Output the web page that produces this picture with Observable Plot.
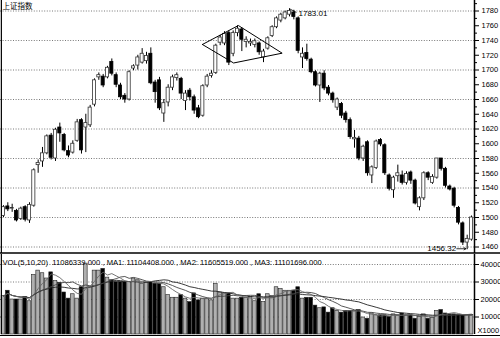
<!DOCTYPE html>
<html><head><meta charset="utf-8">
<script src="https://cdn.jsdelivr.net/npm/d3@7"></script>
<script src="https://cdn.jsdelivr.net/npm/@observablehq/plot@0.6"></script>
<style>
html,body{margin:0;padding:0;background:#fff;}
#chart{position:relative;width:500px;height:338px;overflow:hidden;}
#chart svg{position:absolute;left:0;display:block;}
</style></head><body><div id="chart"></div>
<script>
// ---- data ----
const title = "上证指数";
const volHeader = "VOL(5,10,20)  11086339.000 , MA1: 11104408.000 , MA2: 11605519.000 , MA3: 11101696.000";
const open = [
 1502,1515,1512,1509,1498,1514,1496,1516,1571,1576,
 1587,1611,1580,1622,1612,1590,1588,1604,1632,1622,
 1625,1653,1690,1691,1690,1711,1693,1679,1665,1660,
 1702,1706,1710,1712,1722,1683,1686,1641,1656,1676,
 1689,1688,1658,1672,1663,1648,1638,1679,1692,1696,
 1737,1736,1750,1722,1750,1755,1738,1736,1734,1736,
 1717,1729,1746,1758,1767,1770,1775,1778,1770,1717,
 1723,1714,1697,1679,1695,1676,1668,1649,1654,1641,
 1632,1606,1607,1580,1602,1557,1567,1605,1598,1557,
 1537,1556,1557,1547,1561,1550,1514,1526,1560,1547,
 1554,1580,1566,1542,1539,1513,1492,1466,1470];
const high = [
 1516,1520,1518,1511,1514,1516,1520,1566,1578,1595,
 1612,1614,1621,1628,1614,1597,1604,1633,1634,1640,
 1652,1688,1696,1694,1705,1715,1696,1682,1668,1699,
 1707,1720,1729,1724,1730,1686,1690,1660,1680,1693,
 1696,1690,1672,1675,1666,1652,1680,1694,1699,1735,
 1747,1752,1753,1753,1760,1757,1745,1742,1742,1738,
 1728,1745,1760,1772,1777,1780,1783.01,1781,1772,1730,
 1735,1716,1699,1697,1699,1679,1670,1662,1656,1644,
 1635,1618,1610,1598,1604,1570,1605,1607,1600,1559,
 1556,1571,1563,1562,1563,1552,1528,1562,1562,1558,
 1580,1580,1568,1544,1541,1515,1494,1476,1502];
const low = [
 1500,1508,1507,1494,1496,1494,1492,1514,1560,1568,
 1585,1578,1576,1602,1589,1581,1586,1602,1586,1588,
 1622,1650,1686,1676,1688,1692,1676,1660,1655,1658,
 1699,1700,1708,1708,1680,1655,1645,1629,1650,1672,
 1685,1660,1645,1658,1640,1634,1636,1676,1689,1694,
 1733,1733,1706,1718,1745,1725,1730,1732,1730,1720,
 1710,1727,1744,1756,1764,1768,1772,1768,1722,1702,
 1712,1695,1677,1656,1672,1665,1655,1645,1634,1628,
 1606,1594,1577,1576,1556,1546,1565,1596,1557,1536,
 1526,1548,1544,1544,1545,1517,1509,1523,1550,1545,
 1552,1563,1540,1536,1513,1490,1462,1456.32,1468];
const close = [
 1514,1511,1513,1496,1512,1497,1517,1564,1574,1587,
 1610,1581,1619,1614,1591,1584,1600,1629,1591,1628,
 1649,1686,1693,1679,1703,1695,1680,1663,1660,1697,
 1705,1717,1722,1719,1682,1670,1648,1655,1676,1690,
 1693,1668,1668,1663,1645,1636,1678,1691,1695,1733,
 1744,1749,1710,1750,1756,1741,1741,1738,1739,1724,
 1725,1743,1758,1770,1775,1778,1780,1772,1726,1722,
 1715,1697,1679,1695,1675,1668,1659,1660,1638,1632,
 1609,1608,1580,1596,1560,1568,1603,1599,1560,1539,
 1554,1560,1547,1559,1550,1519,1526,1560,1554,1555,
 1580,1566,1543,1538,1516,1493,1466,1471,1500];
// volume in thousands (axis "X1000")
const volume = [
 22000,25000,20000,20000,20000,21500,19000,34000,36500,35000,
 32000,35500,30500,29500,24000,20500,23000,20500,27000,40500,
 27000,36500,36500,37500,32500,31000,30000,30000,30000,30000,
 32000,31000,29000,29500,30000,29000,29000,27000,22500,21000,
 21000,22500,20500,18500,23500,19500,20500,20500,19500,29000,
 24000,23500,23500,20500,20500,21000,21000,21500,19000,23000,
 18500,23000,22000,27000,26000,25000,25000,25000,27000,20500,
 21000,21000,16500,15000,15500,12500,15000,13500,12500,13500,
 13500,13500,14000,9700,9000,12000,11000,11000,11000,10000,
 11500,11000,12000,11000,11000,9000,10000,11500,9000,9500,
 13500,14000,12000,11500,11500,11000,10800,11130,11086];
const priceTicks = [1460,1480,1500,1520,1540,1560,1580,1600,1620,1640,1660,1680,1700,1720,1740,1760,1780];
const priceMinor = [1470,1490,1510,1530,1550,1570,1590,1610,1630,1650,1670,1690,1710,1730,1750,1770,1790];
const priceGrid = [1460,1500,1540,1580,1620,1660,1700,1740,1780];
const volTicks = [10000,20000,30000,40000];
const volUnit = "X1000";
// diamond pattern vertices (candle index, price)
const diamondI = [45.9, 54.2, 64.3, 53.1, 45.9];
const diamondP = [1734.6, 1760.3, 1722.8, 1709.5, 1734.6];
const peak = {i: 66, p: 1783.01, label: "1783.01"};
const trough = {i: 107, p: 1456.32, label: "1456.32"};

// ---- build ----
const n = close.length;
const candles = d3.range(n).map(i => ({i, o: open[i], h: high[i], l: low[i], c: close[i], v: volume[i], up: close[i] >= open[i]}));
const diamond = diamondI.map((i, k) => ({i, p: diamondP[k]}));
const pxPerIdx = 4.333;
const xDomain = [-0.69, n - 1 + 0.69];
const xRight = xDomain[1] + 26 / pxPerIdx; // right edge of the picture
const font = "Liberation Sans, Arial, sans-serif";
const grid = {stroke: "#555", strokeDasharray: "1,1.6", strokeWidth: 0.8};

const mainH = 253;
const pxPerPt = 0.7375;
const yTop = 1780 + 10.5 / pxPerPt;
const yDomain = [yTop - mainH / pxPerPt, yTop];

const main = Plot.plot({
  width: 500, height: mainH, marginLeft: 0, marginRight: 26, marginTop: 0, marginBottom: 0,
  style: {fontFamily: font, fontSize: "7.5px", background: "transparent", overflow: "visible"},
  x: {domain: xDomain, axis: null},
  y: {domain: yDomain, axis: null},
  marks: [
    Plot.ruleY(priceGrid, grid),
    Plot.ruleX(candles, {x: "i", y1: "l", y2: "h", stroke: "#000", strokeWidth: 1}),
    Plot.rect(candles, {x1: d => d.i - 0.36, x2: d => d.i + 0.36, y1: "o", y2: "c",
      fill: d => d.up ? "#fff" : "#000", stroke: d => d.up ? "#333" : "#000", strokeWidth: 0.8}),
    Plot.line(diamond, {x: "i", y: "p", stroke: "#000", strokeWidth: 1}),
    Plot.link([peak], {x1: "i", y1: "p", x2: d => d.i + 1.6, y2: d => d.p - 5, stroke: "#000", strokeWidth: 0.8}),
    Plot.text([peak], {x: "i", y: "p", text: "label", dx: 9, dy: 5, textAnchor: "start", fontSize: 8, fill: "#000"}),
    Plot.text([trough], {x: "i", y: "p", text: "label", dx: -11, dy: -1, textAnchor: "end", fontSize: 8, fill: "#000"}),
    Plot.arrow([trough], {x1: d => d.i - 2.4, x2: d => d.i - 0.3, y1: d => d.p + 1.3, y2: d => d.p + 1.3, stroke: "#000", strokeWidth: 0.8, headLength: 4}),
    Plot.axisY(priceMinor.filter(t => t < yDomain[1] && t > yDomain[0]), {anchor: "right", tickSize: 2, tickFormat: () => "", stroke: "#000"}),
    Plot.axisY(priceTicks, {anchor: "right", tickSize: 4, tickPadding: 3, tickFormat: d => String(d), fontSize: 7.5, fill: "#000", stroke: "#000", label: null}),
    Plot.ruleX([xDomain[1]], {stroke: "#000", strokeWidth: 1.5}),
    Plot.ruleX([xDomain[0] + 0.2], {stroke: "#000", strokeWidth: 1.2}),
    Plot.ruleY([yDomain[0]], {x1: xDomain[0], x2: xRight, stroke: "#000", strokeWidth: 1.6, dy: -0.5}),
    Plot.text([title], {frameAnchor: "top-left", dx: 2, dy: 3.5, fontSize: 7.5, fontFamily: "Noto Sans CJK SC", fill: "#000", textAnchor: "start"})
  ]
});

const volH = 84, volBottom = 4;
const volDomain = [0, 40000 * (volH - volBottom) / (volH - volBottom - 10)];
const vol = Plot.plot({
  width: 500, height: volH, marginLeft: 0, marginRight: 26, marginTop: 0, marginBottom: volBottom,
  style: {fontFamily: font, fontSize: "7.5px", background: "transparent", overflow: "visible"},
  x: {domain: xDomain, axis: null},
  y: {domain: volDomain, axis: null},
  marks: [
    Plot.ruleY(volTicks, grid),
    Plot.rect(candles, {x1: d => d.i - 0.42, x2: d => d.i + 0.42, y1: 0, y2: "v",
      fill: d => d.up ? "#b0b0b0" : "#000", stroke: "#222", strokeWidth: 0.6}),
    Plot.lineY(candles, Plot.windowY({k: 20, anchor: "end"}, {x: "i", y: "v", stroke: "#222", strokeWidth: 0.9})),
    Plot.lineY(candles, Plot.windowY({k: 10, anchor: "end"}, {x: "i", y: "v", stroke: "#444", strokeWidth: 0.9})),
    Plot.lineY(candles, Plot.windowY({k: 5, anchor: "end"}, {x: "i", y: "v", stroke: "#666", strokeWidth: 0.9})),
    Plot.axisY(volTicks, {anchor: "right", tickSize: 4, tickPadding: 2, tickFormat: d => String(d), fontSize: 7.5, fill: "#000", stroke: "#000", label: null}),
    Plot.text([volUnit], {frameAnchor: "bottom-right", dx: 3, dy: -2, textAnchor: "start", fontSize: 7.5, fill: "#000"}),
    Plot.ruleX([xDomain[1]], {stroke: "#000", strokeWidth: 1.5}),
    Plot.ruleX([xDomain[0] + 0.2], {stroke: "#000", strokeWidth: 1.2}),
    Plot.ruleY([0], {x1: xDomain[0], x2: xRight, stroke: "#000", strokeWidth: 1.2, dy: 1}),
    Plot.text([volHeader], {frameAnchor: "top-left", dx: 2, dy: 5, fontSize: 7.6, fill: "#000", textAnchor: "start"})
  ]
});

const root = document.getElementById("chart");
main.style.top = "0px";
vol.style.top = "254px";
root.appendChild(main);
root.appendChild(vol);
</script></body></html>
